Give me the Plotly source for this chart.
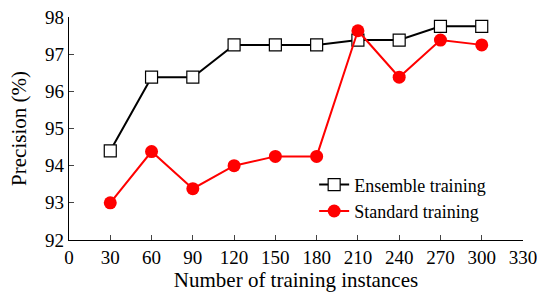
import plotly.graph_objects as go

instances = [30, 60, 90, 120, 150, 180, 210, 240, 270, 300]
ensemble = [94.4, 96.38, 96.38, 97.25, 97.25, 97.25, 97.38, 97.38, 97.75, 97.75]
standard = [93.0, 94.38, 93.38, 94.0, 94.25, 94.25, 97.63, 96.38, 97.38, 97.25]
x_ticks = [0, 30, 60, 90, 120, 150, 180, 210, 240, 270, 300, 330]
y_ticks = [92, 93, 94, 95, 96, 97, 98]

font_family = "Liberation Serif"

fig = go.Figure()
fig.add_trace(go.Scatter(
    x=instances, y=ensemble, name="Ensemble training", mode="lines+markers",
    line=dict(color="black", width=2),
    marker=dict(symbol="square", size=12, color="white", line=dict(color="black", width=1.2)),
))
fig.add_trace(go.Scatter(
    x=instances, y=standard, name="Standard training", mode="lines+markers",
    line=dict(color="#ff0000", width=2),
    marker=dict(symbol="circle", size=13, color="#ff0000"),
))

fig.update_layout(
    width=537, height=292,
    margin=dict(l=69, r=14, t=17, b=52),
    paper_bgcolor="white", plot_bgcolor="white",
    font=dict(family=font_family, size=18, color="black"),
    showlegend=True,
    legend=dict(x=0.54, y=0.33, xanchor="left", yanchor="top",
                bgcolor="rgba(0,0,0,0)", font=dict(size=18), tracegroupgap=0,
                itemwidth=30),
    xaxis=dict(range=[0, 330], tickvals=x_ticks, ticks="inside", ticklen=5,
               showline=True, linecolor="black", linewidth=1.2, showgrid=False,
               zeroline=False, mirror=False, automargin=False,
               ticklabeloverflow="allow", tickfont=dict(size=19),
               title=dict(text="Number of training instances", font=dict(size=21), standoff=4)),
    yaxis=dict(range=[92, 98], tickvals=y_ticks, ticks="inside", ticklen=5,
               showline=True, linecolor="black", linewidth=1.2, showgrid=False,
               zeroline=False, mirror=False, automargin=False,
               ticklabeloverflow="allow", tickfont=dict(size=19),
               title=dict(text="Precision (%)", font=dict(size=21), standoff=12)),
)

fig.write_html("out.html", config={"displayModeBar": False},
               post_script="document.body.style.margin='0px';")
